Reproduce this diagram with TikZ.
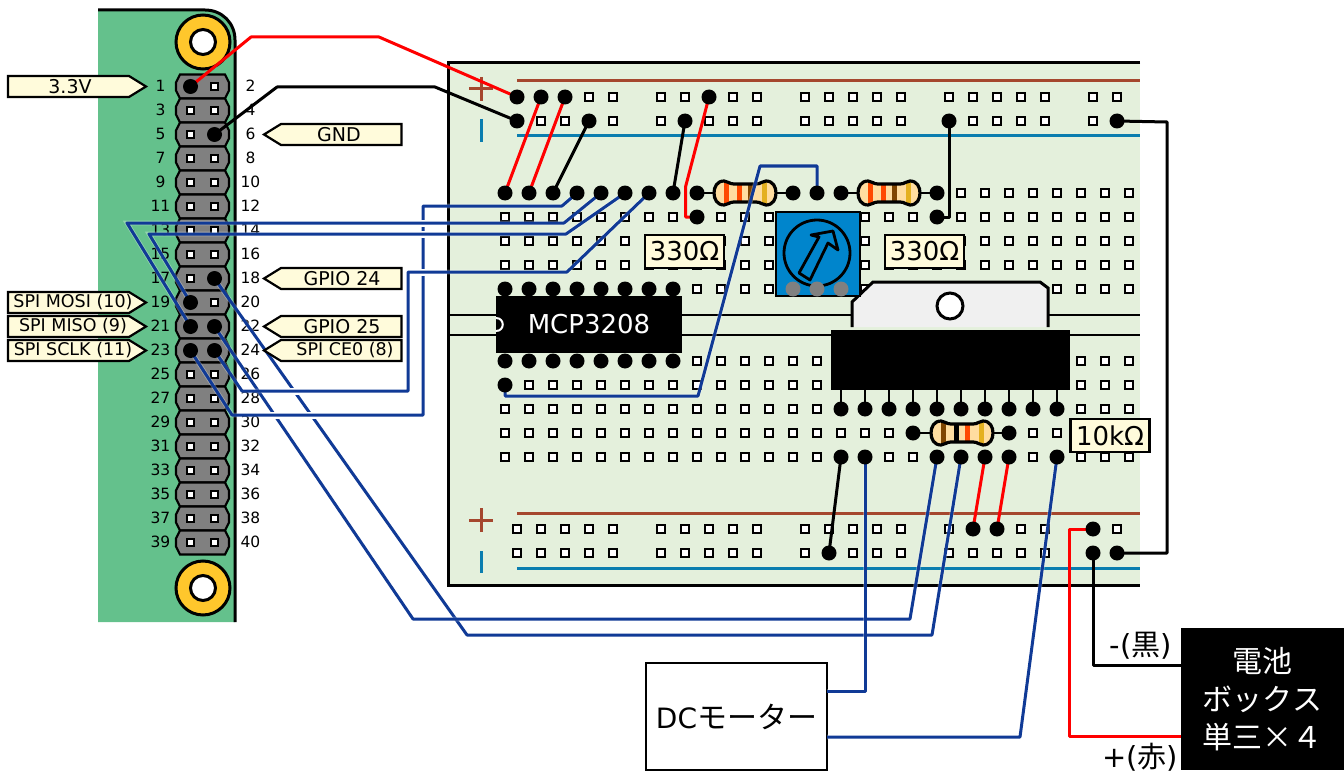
\documentclass[tikz,border=0pt]{standalone}
\usepackage{fontspec}
\setmainfont{DejaVu Sans}
\newfontfamily\jpfont{Noto Sans CJK JP}
\usetikzlibrary{positioning}
\definecolor{boardgreen}{HTML}{E4F0DC}
\definecolor{pigreen}{HTML}{64C18C}
\definecolor{padgold}{HTML}{FFC72C}
\definecolor{tagyellow}{HTML}{FFFBDB}
\definecolor{railred}{HTML}{A5472E}
\definecolor{railblue}{HTML}{0A7DAF}
\definecolor{wireblue}{HTML}{103A96}
\definecolor{trimblue}{HTML}{0085CC}
\definecolor{resbody}{HTML}{FFDDA0}
\definecolor{bandorange}{HTML}{FF4A00}
\definecolor{bandbrown}{HTML}{7F4500}
\definecolor{bandgold}{HTML}{E4B020}
\newcommand{\fsz}[1]{\fontsize{#1}{#1}\selectfont}
\tikzset{
    hole/.style      = {draw=black, fill=white, line width=2.2pt, minimum size=7.4pt, inner sep=0, outer sep=0},
    peg/.style       = {circle, fill=black, minimum size=15pt, inner sep=0, outer sep=0},
    greypeg/.style   = {circle, fill=black!50, minimum size=15pt, inner sep=0, outer sep=0},
    mount/.style     = {circle, draw=black, fill=padgold, line width=3pt, minimum size=54pt, inner sep=0},
    mounthole/.style = {circle, draw=black, fill=white, line width=3pt, minimum size=25pt, inner sep=0},
    header/.style    = {draw=black, fill=black!50, line width=2.2pt},
    pinnum/.style    = {font=\fsz{15.5}, inner sep=0},
    tagbox/.style    = {draw=black, fill=tagyellow, line width=2.2pt},
    tagtext/.style   = {font=\fsz{19}, inner sep=0},
    spitext/.style   = {font=\fsz{17.5}, inner sep=0},
    valbox/.style    = {draw=black, fill=tagyellow, line width=2.2pt, font=\fsz{26}, minimum height=33pt, minimum width=79pt, inner sep=0, outer sep=0},
    chip/.style      = {fill=black, text=white, font=\fsz{26}, inner sep=0, outer sep=0},
    rail/.style      = {line width=3pt},
    redwire/.style   = {draw=red, line width=3pt, line join=round},
    blackwire/.style = {draw=black, line width=3pt, line join=round},
    bluewire/.style  = {draw=wireblue, line width=3pt, line join=round, preaction={draw=white, draw opacity=.3, line width=4.6pt}},
    gapline/.style   = {draw=white, line width=7pt},
    lead/.style      = {draw=black, line width=2.8pt},
}
\newcommand{\tagright}[5][tagtext]{
    \draw[tagbox] (8,#3) -- (129,#3) -- (146,#3+10.5) -- (129,#3+21) -- (8,#3+21) -- cycle;
    \node[#1] (#2) at (#4,#3+10.5) {#5};
}
\newcommand{\tagleft}[5][tagtext]{
    \draw[tagbox] (401.5,#3) -- (281,#3) -- (264,#3+10.5) -- (281,#3+21) -- (401.5,#3+21) -- cycle;
    \node[#1] (#2) at (#4,#3+10.5) {#5};
}
\newcommand{\bonepath}{(10,-12) .. controls (3,-12) and (0,-6) .. (0,0) .. controls (0,6) and (3,12) .. (10,12) .. controls (14,12) and (15,9) .. (20,9) -- (42,9) .. controls (47,9) and (48,12) .. (52,12) .. controls (59,12) and (62,6) .. (62,0) .. controls (62,-6) and (59,-12) .. (52,-12) .. controls (48,-12) and (47,-9) .. (42,-9) -- (20,-9) .. controls (15,-9) and (14,-12) .. (10,-12) -- cycle}
\newcommand{\resistor}[6]{
    \begin{scope}[shift={(#1,#2)}]
        \begin{scope}
            \clip \bonepath;
            \fill[resbody] (-1,-13) rectangle (63,13);
            \fill[#3] (9.5,-13)  rectangle (14.5,13);
            \fill[#4] (22.5,-13) rectangle (27.5,13);
            \fill[#5] (33.5,-13) rectangle (38.5,13);
            \fill[#6] (47.5,-13) rectangle (52.5,13);
        \end{scope}
        \draw[line width=3.2pt] \bonepath;
    \end{scope}
}
\begin{document}
\begin{tikzpicture}[x=1pt, y=-1pt]
    \useasboundingbox (0,0) rectangle (1344,773);

    % raspberry pi
    \fill[pigreen] (98,10) -- (205,10) .. controls (222,10) and (235,23) .. (235,40) -- (235,622) -- (98,622) -- cycle;
    \draw[line width=3pt] (98,10) -- (205,10) .. controls (222,10) and (235,23) .. (235,40) -- (235,622);
    \node[mount]     (pad_a)  at (203,42)  {};
    \node[mounthole] (hole_a) at (pad_a)   {};
    \node[mount]     (pad_b)  at (203,588) {};
    \node[mounthole] (hole_b) at (pad_b)   {};
    \foreach \n in {0,...,19} {
        \pgfmathtruncatemacro{\pinodd}{2*\n+1}
        \pgfmathtruncatemacro{\pineven}{2*\n+2}
        \pgfmathsetmacro{\py}{86.5+24*\n}
        \draw[header] (180,\py-12) -- (225,\py-12) -- (229,\py-4) -- (229,\py+4) -- (225,\py+12) -- (180,\py+12) -- (176,\py+4) -- (176,\py-4) -- cycle;
        \node[hole]   (p_\pinodd)  at (190.5,\py) {};
        \node[hole]   (p_\pineven) at (214.5,\py) {};
        \node[pinnum] (n_\pinodd)  at (160.5,\py-1) {\pinodd};
        \node[pinnum] (n_\pineven) at (250.5,\py-1) {\pineven};
    }

    % breadboard
    \fill[boardgreen] (448,63) rectangle (1140,585);
    \draw[line width=3pt] (1140,63) -- (448,63) -- (448,585) -- (1140,585);
    \draw[line width=2.8pt] (448,315) -- (1140,315);
    \draw[line width=2.8pt] (448,335) -- (1140,335);
    \draw[rail, railred]  (517,81)  -- (1140,81);
    \draw[rail, railblue] (517,136) -- (1140,136);
    \draw[rail, railred]  (517,513) -- (1140,513);
    \draw[rail, railblue] (517,568) -- (1140,568);
    \draw[rail, railred]  (469,89)  -- (493,89);
    \draw[rail, railred]  (481,77)  -- (481,101);
    \draw[rail, railblue] (481,119) -- (481,142);
    \draw[rail, railred]  (469,520) -- (493,520);
    \draw[rail, railred]  (481,508) -- (481,532);
    \draw[rail, railblue] (481,551) -- (481,573);
    \foreach \x in {517,541,565,589,613,661,685,709,733,757,805,829,853,877,901,949,973,997,1021,1045,1093,1117} {
        \node[hole] (ta\x) at (\x,97)  {};
        \node[hole] (tb\x) at (\x,121) {};
        \node[hole] (ba\x) at (\x,529) {};
        \node[hole] (bb\x) at (\x,553) {};
    }
    \foreach \r/\y in {0/193,1/217,2/241,3/265,4/289,5/361,6/385,7/409,8/433,9/457}
        \foreach \k in {0,...,26}
            \node[hole] (m\k_\r) at ({505+24*\k},\y) {};

    % parts
    \node[chip, minimum width=186pt, minimum height=57pt] (adc) at (589,324.5) {MCP3208};
    \draw[white, line width=2pt] (496,318) .. controls (505,318) and (505,331) .. (496,331);
    \draw[fill=black!6, line width=3pt] (852,327) -- (852,302) -- (873,282) -- (1040,282) -- (1048,288) -- (1048,327);
    \node[circle, draw=black, fill=white, line width=3pt, minimum size=26pt, inner sep=0] (tab_hole) at (950,306) {};
    \node[chip, minimum width=239pt, minimum height=60pt] (driver) at (950.5,360) {};
    \foreach \k in {14,...,23}
        \draw[lead] (m\k_7.center) -- (driver.south -| m\k_7);
    \node[draw=black, fill=trimblue, line width=2.8pt, minimum size=84pt, inner sep=0, outer sep=0] (trim) at (818,254) {};
    \node[circle, draw=black, line width=2.8pt, minimum size=66pt, inner sep=0] (dial) at (817,253) {};
    \draw[line width=2.8pt, line join=round] (799,273) -- (819,237) -- (811,235) -- (833,231) -- (838,250) -- (828,243) -- (810,280) -- cycle;
    \foreach \k in {12,13,14}
        \node[greypeg] (wiper\k) at (m\k_4) {};
    \draw[lead] (m8_0.center)  -- (m12_0.center);
    \draw[lead] (m14_0.center) -- (m18_0.center);
    \draw[lead] (m17_8.center) -- (m21_8.center);
    \resistor{714}{193}{bandorange}{bandorange}{bandbrown}{bandgold}
    \resistor{858}{193}{bandorange}{bandorange}{bandbrown}{bandgold}
    \resistor{931}{433}{bandbrown}{black}{bandorange}{bandgold}
    \node[valbox] (val_a) at (684.5,251.5) {330Ω};
    \node[valbox] (val_b) at (924.5,251.5) {330Ω};
    \node[valbox] (val_c) at (1110,435.5)  {10kΩ};

    % motor and battery
    \node[draw=black, fill=white, line width=2.2pt, minimum width=181pt, minimum height=107pt, inner sep=0, outer sep=0, font=\fsz{28}] (motor) at (736.5,716.5) {DC{\jpfont\fsz{30}モーター}};
    \node[fill=black, text=white, align=center, minimum width=163pt, minimum height=142pt, inner sep=0, outer sep=0, font=\jpfont\fontsize{30}{38}\selectfont] (battery) at (1262.5,699) {電池\\ボックス\\単三×４};
    \coordinate (motor_a) at (827,691);
    \coordinate (motor_b) at (827,737);
    \coordinate (batt_p)  at (1181,736);
    \coordinate (batt_m)  at (1181,665);
    \node[font=\fsz{29}, inner sep=0] (minus_lbl) at (1141,646) {-({\jpfont 黒})};
    \node[font=\fsz{29}, inner sep=0] (plus_lbl)  at (1140,757) {+({\jpfont 赤})};

    % wires
    \draw[redwire]   (p_1.center)   -- (251,37) -- (379,37) -- (ta517.center);
    \draw[blackwire] (p_6.center)   -- (277,87) -- (435,87) -- (tb517.center);
    \draw[redwire]   (ta541.center) -- (m0_0.center);
    \draw[redwire]   (ta565.center) -- (m1_0.center);
    \draw[blackwire] (tb589.center) -- (m2_0.center);
    \draw[blackwire] (tb685.center) -- (m7_0.center);
    \draw[redwire]   (ta709.center) -- (685.5,187) -- (685.5,217) -- (m8_1.center);
    \draw[blackwire] (tb949.center) -- (949,217) -- (m18_1.center);
    \draw[blackwire] (tb1117.center) -- (1167,122) -- (1167,553) -- (bb1117.center);
    \draw[blackwire] (m14_9.center) -- (bb829.center);
    \draw[redwire]   (m20_9.center) -- (ba973.center);
    \draw[redwire]   (m21_9.center) -- (ba997.center);
    \draw[redwire]   (ba1093.center) -- (1069,529) -- (1069,736) -- (batt_p);
    \draw[blackwire] (bb1093.center) -- (1093,665) -- (batt_m);
    \draw[bluewire]  (m19_9.center) -- (932,635) -- (467,635) -- (p_18.center);
    \draw[bluewire]  (m18_9.center) -- (910,619) -- (413,619) -- (p_22.center);
    \draw[bluewire]  (m15_9.center) -- (865,691) -- (motor_a);
    \draw[bluewire]  (m23_9.center) -- (1020,737) -- (motor_b);
    \draw[bluewire]  (m0_6.center)  -- (505,396) -- (698,396) -- (760,166) -- (817,166) -- (m13_0.center);
    \draw[gapline]   (264,415) -- (423,415);
    \draw[bluewire]  (p_23.center)  -- (232,415) -- (423,415) -- (423,206) -- (562,206) -- (m3_0.center);
    \draw[gapline]   (400,223) -- (446,223);
    \draw[bluewire]  (m4_0.center)  -- (564,223) -- (127,223) -- (p_21.center);
    \draw[gapline]   (400,234) -- (446,234);
    \draw[bluewire]  (m5_0.center)  -- (566,234) -- (149,234) -- (p_19.center);
    \draw[gapline]   (264,391) -- (408,391);
    \draw[gapline]   (408,272) -- (446,272);
    \draw[bluewire]  (p_24.center)  -- (242,391) -- (408,391) -- (408,272) -- (567,272) -- (m6_0.center);

    % pegs
    \foreach \a in {ta517,ta541,ta565,ta709,tb517,tb589,tb685,tb949,tb1117,ba973,ba997,ba1093,bb829,bb1093,bb1117,p_1,p_6,p_18,p_19,p_21,p_22,p_23,p_24}
        \node[peg] (peg_\a) at (\a) {};
    \foreach \k/\r in {0/0,1/0,2/0,3/0,4/0,5/0,6/0,7/0,8/0,12/0,13/0,14/0,18/0,8/1,18/1,0/4,1/4,2/4,3/4,4/4,5/4,6/4,7/4,0/5,1/5,2/5,3/5,4/5,5/5,6/5,7/5,0/6,14/7,15/7,16/7,17/7,18/7,19/7,20/7,21/7,22/7,23/7,17/8,21/8,14/9,15/9,18/9,19/9,20/9,21/9,23/9}
        \node[peg] (peg_\k_\r) at (m\k_\r) {};

    % tags
    \tagright{tag_vcc}{76}{70}{3.3V}
    \tagright[spitext]{tag_mosi}{292}{73}{SPI MOSI (10)}
    \tagright[spitext]{tag_miso}{316}{73}{SPI MISO (9)}
    \tagright[spitext]{tag_sclk}{340}{73}{SPI SCLK (11)}
    \tagleft{tag_gnd}{124}{339}{GND}
    \tagleft{tag_g24}{268}{342}{GPIO 24}
    \tagleft{tag_g25}{316}{342}{GPIO 25}
    \tagleft[spitext]{tag_ce}{340}{345}{SPI CE0 (8)}
\end{tikzpicture}
\end{document}
